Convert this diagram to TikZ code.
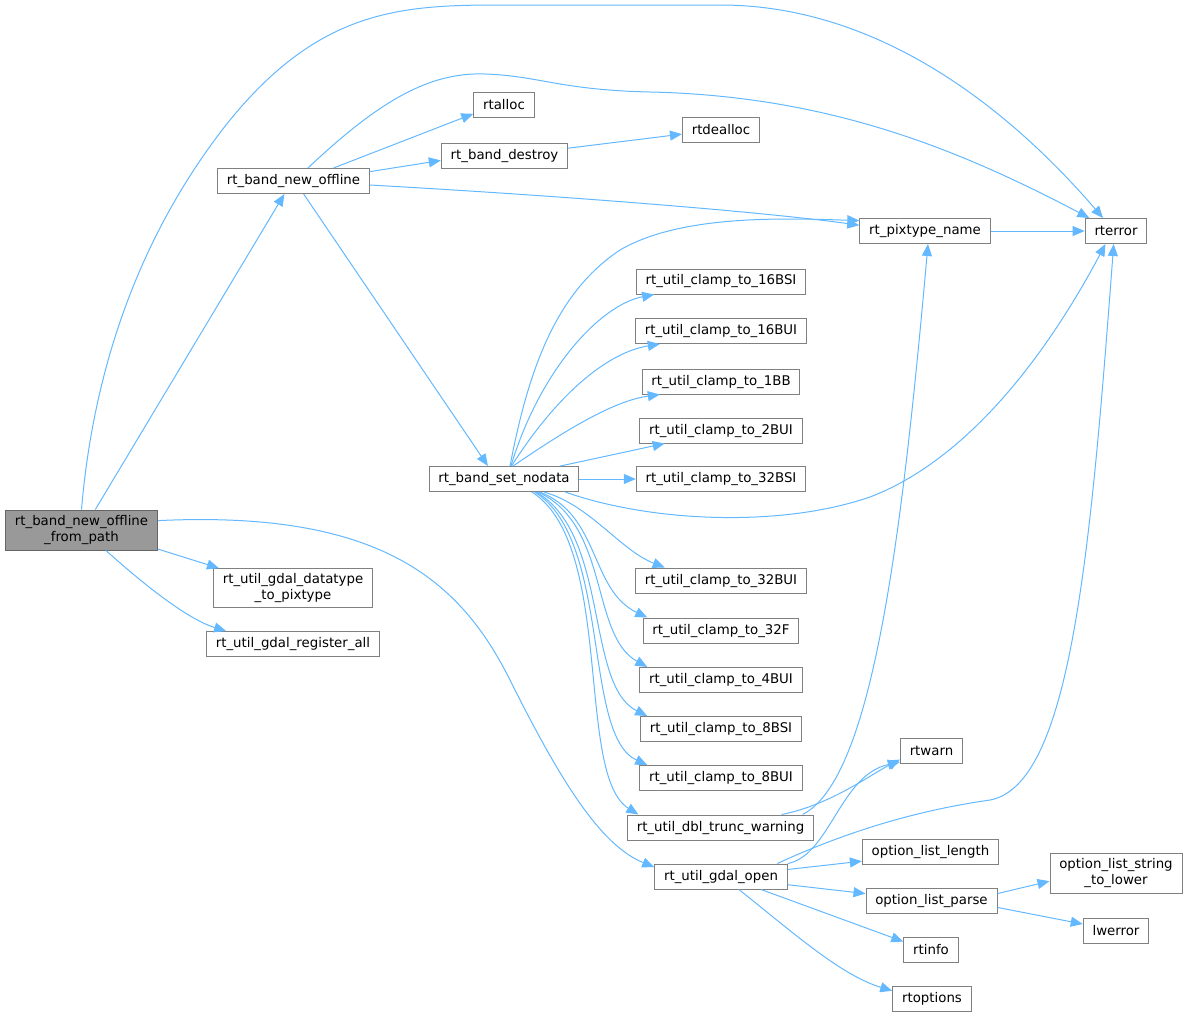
\documentclass[tikz,border=0pt]{standalone}
\usepackage{fontspec}
\setmainfont{DejaVu Sans}
\usepackage{tikz}
\usetikzlibrary{arrows.meta}
\definecolor{edgeblue}{HTML}{63B8FF}
\definecolor{boxline}{HTML}{808080}
\definecolor{mainline}{HTML}{666666}
\definecolor{mainfill}{HTML}{999999}

\begin{document}
\begin{tikzpicture}[
    x=0.75pt, y=-0.75pt,
    box/.style={rectangle, draw=boxline, line width=0.75pt, fill=white,
                minimum height=18.75pt, inner xsep=7pt, inner ysep=2pt,
                align=center, font=\fontsize{10}{11.5}\selectfont},
    arr/.style={-{Triangle[length=9pt, width=7.5pt]}, edgeblue, line width=0.75pt}
]
\useasboundingbox (0,0) rectangle (1189,1018);

\node[box, fill=mainfill, draw=mainline, minimum height=30pt] (mainfn) at (81.5,530) {rt\_band\_new\_offline\\\_from\_path};
\node[box] (newoffline) at (293.5,181) {rt\_band\_new\_offline};
\node[box, minimum height=29pt] (datatype) at (293,588) {rt\_util\_gdal\_datatype\\\_to\_pixtype};
\node[box] (registerall) at (293,644) {rt\_util\_gdal\_register\_all};
\node[box] (rtalloc) at (504,105) {rtalloc};
\node[box] (banddestroy) at (504.5,156) {rt\_band\_destroy};
\node[box] (rtdealloc) at (721,130) {rtdealloc};
\node[box] (pixtypename) at (925,231) {rt\_pixtype\_name};
\node[box] (rterror) at (1116,231) {rterror};
\node[box] (setnodata) at (504,479) {rt\_band\_set\_nodata};
\node[box] (c16bsi) at (721,281.5) {rt\_util\_clamp\_to\_16BSI};
\node[box] (c16bui) at (721,331) {rt\_util\_clamp\_to\_16BUI};
\node[box] (c1bb) at (721,381.5) {rt\_util\_clamp\_to\_1BB};
\node[box] (c2bui) at (721,430.5) {rt\_util\_clamp\_to\_2BUI};
\node[box] (c32bsi) at (721,479) {rt\_util\_clamp\_to\_32BSI};
\node[box] (c32bui) at (721,580.5) {rt\_util\_clamp\_to\_32BUI};
\node[box] (c32f) at (721,630.5) {rt\_util\_clamp\_to\_32F};
\node[box] (c4bui) at (721,680) {rt\_util\_clamp\_to\_4BUI};
\node[box] (c8bsi) at (721,729) {rt\_util\_clamp\_to\_8BSI};
\node[box] (c8bui) at (721,778) {rt\_util\_clamp\_to\_8BUI};
\node[box] (dbltrunc) at (720.5,827.5) {rt\_util\_dbl\_trunc\_warning};
\node[box] (gdalopen) at (721,876.5) {rt\_util\_gdal\_open};
\node[box] (rtwarn) at (931.5,750.5) {rtwarn};
\node[box] (optlength) at (930.5,851.5) {option\_list\_length};
\node[box] (optparse) at (931.5,900.5) {option\_list\_parse};
\node[box] (rtinfo) at (931,949.5) {rtinfo};
\node[box] (rtoptions) at (932,998.5) {rtoptions};
\node[box, minimum height=30pt] (strlower) at (1116,873) {option\_list\_string\\\_to\_lower};
\node[box] (lwerror) at (1116,930.5) {lwerror};

\draw[arr] (mainfn.north) .. controls (95,350) and (150,220) .. (230,120)
    .. controls (320,10) and (400,5) .. (500,5) -- (720,5)
    .. controls (880,5) and (1010,110) .. (rterror.135);
\draw[arr] (mainfn.56) -- (newoffline.235);
\draw[arr] (mainfn.-14) -- (datatype.165);
\draw[arr] (mainfn.-40) .. controls (150,590) and (190,620) .. (registerall.169);
\draw[arr] (mainfn.7) .. controls (380,510) and (460,580) .. (510,680)
    .. controls (560,780) and (600,845) .. (gdalopen.172);

\draw[arr] (newoffline.42) .. controls (380,100) and (430,72) .. (485,74)
    .. controls (540,76) and (560,90) .. (650,92)
    .. controls (830,96) and (960,150) .. (rterror.154);
\draw[arr] (newoffline.18) -- (rtalloc.196);
\draw[arr] (newoffline.7) -- (banddestroy.184);
\draw[arr] (newoffline.-3) .. controls (600,198) and (780,214) .. (pixtypename.175);
\draw[arr] (newoffline.-52) -- (setnodata.141);
\draw[arr] (banddestroy.7) -- (rtdealloc.186);
\draw[arr] (pixtypename.east) -- (rterror.west);

\draw[arr] (setnodata.65) .. controls (530,360) and (560,290) .. (620,250)
    .. controls (680,215) and (780,218) .. (pixtypename.171);
\draw[arr] (setnodata.62) .. controls (540,370) and (600,305) .. (c16bsi.191);
\draw[arr] (setnodata.60) .. controls (560,390) and (610,352) .. (c16bui.192);
\draw[arr] (setnodata.55) .. controls (580,420) and (620,400) .. (c1bb.192);
\draw[arr] (setnodata.13) -- (c2bui.193);
\draw[arr] (setnodata.east) -- (c32bsi.west);
\draw[arr] (setnodata.-12) .. controls (650,522) and (780,528) .. (870,497)
    .. controls (980,455) and (1060,330) .. (rterror.231);
\draw[arr] (setnodata.-18) .. controls (590,505) and (620,550) .. (c32bui.167);
\draw[arr] (setnodata.-20) .. controls (600,515) and (590,590) .. (c32f.170);
\draw[arr] (setnodata.-21) .. controls (610,525) and (590,635) .. (c4bui.170);
\draw[arr] (setnodata.-22) .. controls (610,535) and (585,685) .. (c8bsi.170);
\draw[arr] (setnodata.-23) .. controls (612,540) and (582,735) .. (c8bui.170);
\draw[arr] (setnodata.-25) .. controls (615,545) and (575,775) .. (dbltrunc.171);

\draw[arr] (dbltrunc.12) .. controls (830,805) and (870,775) .. (rtwarn.196);
\draw[arr] (dbltrunc.9) .. controls (870,780) and (900,560) .. (pixtypename.-77);

\draw[arr] (gdalopen.11) .. controls (830,855) and (840,775) .. (rtwarn.200);
\draw[arr] (gdalopen.13) .. controls (850,830) and (920,810) .. (990,800)
    .. controls (1070,785) and (1090,560) .. (rterror.-100);
\draw[arr] (gdalopen.6) -- (optlength.188);
\draw[arr] (gdalopen.-7) -- (optparse.174);
\draw[arr] (gdalopen.-18) -- (rtinfo.164);
\draw[arr] (gdalopen.-36) .. controls (790,930) and (840,975) .. (rtoptions.169);
\draw[arr] (optparse.6) -- (strlower.187);
\draw[arr] (optparse.-6) -- (lwerror.169);
\end{tikzpicture}
\end{document}
